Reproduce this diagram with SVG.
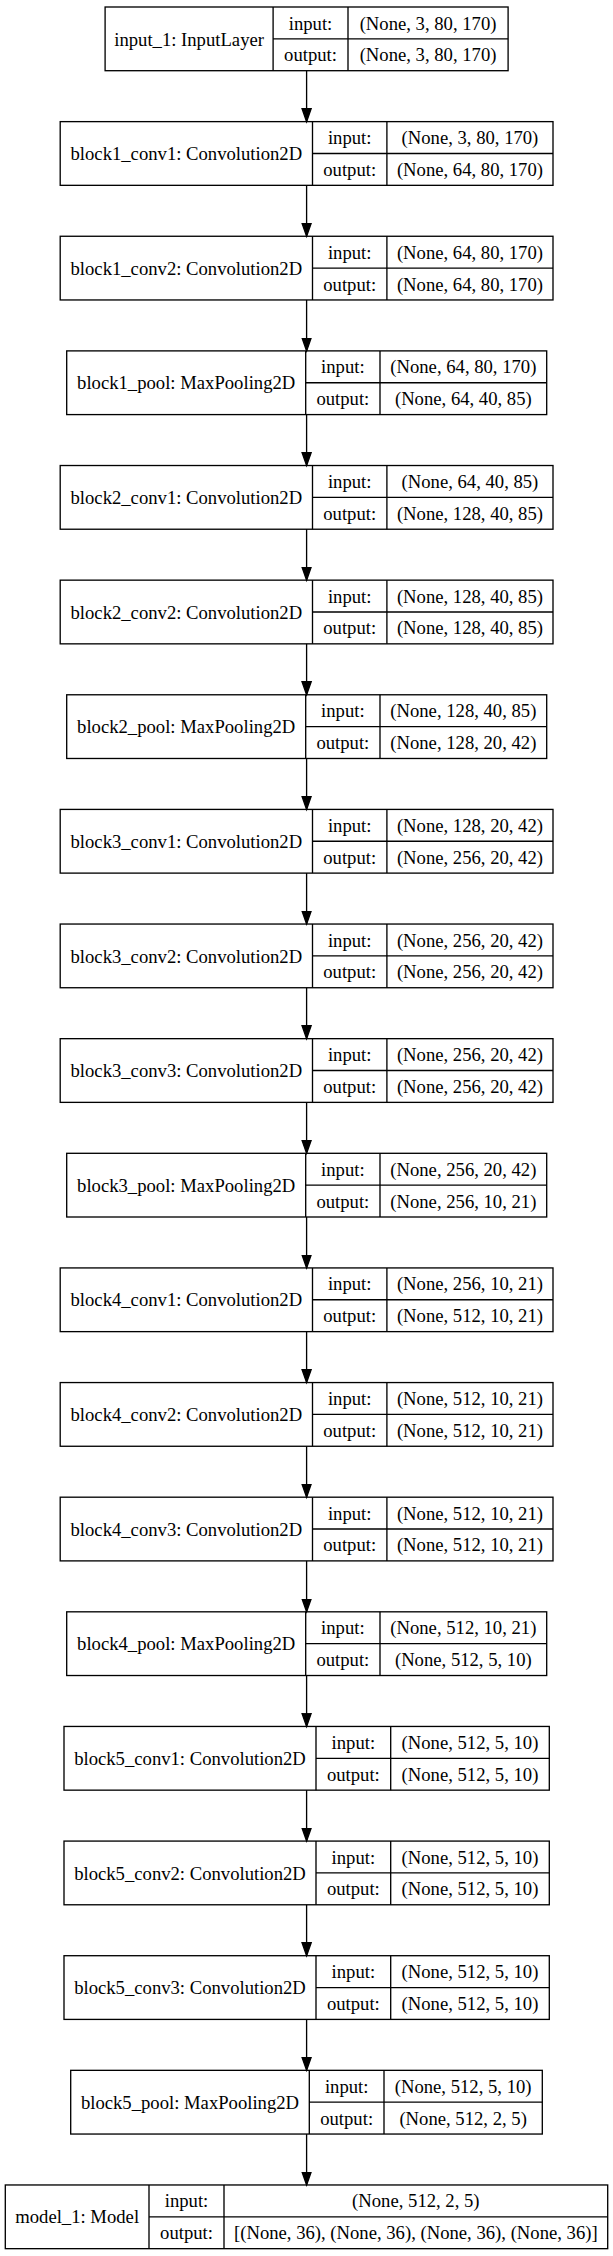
<svg xmlns="http://www.w3.org/2000/svg" width="613" height="2256" viewBox="0 0 613 2256">
<style>
.n rect, .n path { fill: none; stroke: #000; stroke-width: 1.33; }
.n text { font-family: "Liberation Serif", "Times New Roman", serif; font-size: 18.67px; text-anchor: middle; fill: #000; }
.e path { fill: none; stroke: #000; stroke-width: 1.33; marker-end: url(#ah); }
</style>
<defs>
<marker id="ah" markerUnits="userSpaceOnUse" markerWidth="16" markerHeight="12" refX="13.3" refY="5.67" orient="auto" viewBox="0 -1 16 12">
<path d="M0,1L13.3,5.67L0,10.33z" fill="#000" stroke="#000" stroke-width="1.33"/>
</marker>
</defs>
<rect width="613" height="2256" fill="#fff"/>
<g id="edges" class="e">
<path d="M306.6,70.7V121.63"/>
<path d="M306.6,185.33V236.26"/>
<path d="M306.6,299.96V350.89"/>
<path d="M306.6,414.59V465.52"/>
<path d="M306.6,529.22V580.15"/>
<path d="M306.6,643.85V694.78"/>
<path d="M306.6,758.48V809.41"/>
<path d="M306.6,873.11V924.04"/>
<path d="M306.6,987.74V1038.67"/>
<path d="M306.6,1102.37V1153.3"/>
<path d="M306.6,1217V1267.93"/>
<path d="M306.6,1331.63V1382.56"/>
<path d="M306.6,1446.26V1497.19"/>
<path d="M306.6,1560.89V1611.82"/>
<path d="M306.6,1675.52V1726.45"/>
<path d="M306.6,1790.15V1841.08"/>
<path d="M306.6,1904.78V1955.71"/>
<path d="M306.6,2019.41V2070.34"/>
<path d="M306.6,2134.04V2184.97"/>
</g>
<g id="input_1" class="n" transform="translate(0,7)">
<rect x="105.1" y="0" width="403" height="63.7"/>
<path d="M273.1,0V63.7M348,0V63.7M273.1,31.85H508.1"/>
<text x="189.1" y="38.5">input_1: InputLayer</text>
<text x="310.55" y="22.5">input:</text>
<text x="310.55" y="54.3">output:</text>
<text x="428.05" y="22.5">(None, 3, 80, 170)</text>
<text x="428.05" y="54.3">(None, 3, 80, 170)</text>
</g>
<g id="block1_conv1" class="n" transform="translate(0,121.63)">
<rect x="60.2" y="0" width="492.8" height="63.7"/>
<path d="M312.5,0V63.7M386.9,0V63.7M312.5,31.85H553"/>
<text x="186.35" y="38.5">block1_conv1: Convolution2D</text>
<text x="349.7" y="22.5">input:</text>
<text x="349.7" y="54.3">output:</text>
<text x="469.95" y="22.5">(None, 3, 80, 170)</text>
<text x="469.95" y="54.3">(None, 64, 80, 170)</text>
</g>
<g id="block1_conv2" class="n" transform="translate(0,236.26)">
<rect x="60.2" y="0" width="492.8" height="63.7"/>
<path d="M312.5,0V63.7M386.9,0V63.7M312.5,31.85H553"/>
<text x="186.35" y="38.5">block1_conv2: Convolution2D</text>
<text x="349.7" y="22.5">input:</text>
<text x="349.7" y="54.3">output:</text>
<text x="469.95" y="22.5">(None, 64, 80, 170)</text>
<text x="469.95" y="54.3">(None, 64, 80, 170)</text>
</g>
<g id="block1_pool" class="n" transform="translate(0,350.89)">
<rect x="66.7" y="0" width="480" height="63.7"/>
<path d="M305.7,0V63.7M380,0V63.7M305.7,31.85H546.7"/>
<text x="186.2" y="38.5">block1_pool: MaxPooling2D</text>
<text x="342.85" y="22.5">input:</text>
<text x="342.85" y="54.3">output:</text>
<text x="463.35" y="22.5">(None, 64, 80, 170)</text>
<text x="463.35" y="54.3">(None, 64, 40, 85)</text>
</g>
<g id="block2_conv1" class="n" transform="translate(0,465.52)">
<rect x="60.2" y="0" width="492.8" height="63.7"/>
<path d="M312.5,0V63.7M386.9,0V63.7M312.5,31.85H553"/>
<text x="186.35" y="38.5">block2_conv1: Convolution2D</text>
<text x="349.7" y="22.5">input:</text>
<text x="349.7" y="54.3">output:</text>
<text x="469.95" y="22.5">(None, 64, 40, 85)</text>
<text x="469.95" y="54.3">(None, 128, 40, 85)</text>
</g>
<g id="block2_conv2" class="n" transform="translate(0,580.15)">
<rect x="60.2" y="0" width="492.8" height="63.7"/>
<path d="M312.5,0V63.7M386.9,0V63.7M312.5,31.85H553"/>
<text x="186.35" y="38.5">block2_conv2: Convolution2D</text>
<text x="349.7" y="22.5">input:</text>
<text x="349.7" y="54.3">output:</text>
<text x="469.95" y="22.5">(None, 128, 40, 85)</text>
<text x="469.95" y="54.3">(None, 128, 40, 85)</text>
</g>
<g id="block2_pool" class="n" transform="translate(0,694.78)">
<rect x="66.7" y="0" width="480" height="63.7"/>
<path d="M305.7,0V63.7M380,0V63.7M305.7,31.85H546.7"/>
<text x="186.2" y="38.5">block2_pool: MaxPooling2D</text>
<text x="342.85" y="22.5">input:</text>
<text x="342.85" y="54.3">output:</text>
<text x="463.35" y="22.5">(None, 128, 40, 85)</text>
<text x="463.35" y="54.3">(None, 128, 20, 42)</text>
</g>
<g id="block3_conv1" class="n" transform="translate(0,809.41)">
<rect x="60.2" y="0" width="492.8" height="63.7"/>
<path d="M312.5,0V63.7M386.9,0V63.7M312.5,31.85H553"/>
<text x="186.35" y="38.5">block3_conv1: Convolution2D</text>
<text x="349.7" y="22.5">input:</text>
<text x="349.7" y="54.3">output:</text>
<text x="469.95" y="22.5">(None, 128, 20, 42)</text>
<text x="469.95" y="54.3">(None, 256, 20, 42)</text>
</g>
<g id="block3_conv2" class="n" transform="translate(0,924.04)">
<rect x="60.2" y="0" width="492.8" height="63.7"/>
<path d="M312.5,0V63.7M386.9,0V63.7M312.5,31.85H553"/>
<text x="186.35" y="38.5">block3_conv2: Convolution2D</text>
<text x="349.7" y="22.5">input:</text>
<text x="349.7" y="54.3">output:</text>
<text x="469.95" y="22.5">(None, 256, 20, 42)</text>
<text x="469.95" y="54.3">(None, 256, 20, 42)</text>
</g>
<g id="block3_conv3" class="n" transform="translate(0,1038.67)">
<rect x="60.2" y="0" width="492.8" height="63.7"/>
<path d="M312.5,0V63.7M386.9,0V63.7M312.5,31.85H553"/>
<text x="186.35" y="38.5">block3_conv3: Convolution2D</text>
<text x="349.7" y="22.5">input:</text>
<text x="349.7" y="54.3">output:</text>
<text x="469.95" y="22.5">(None, 256, 20, 42)</text>
<text x="469.95" y="54.3">(None, 256, 20, 42)</text>
</g>
<g id="block3_pool" class="n" transform="translate(0,1153.3)">
<rect x="66.7" y="0" width="480" height="63.7"/>
<path d="M305.7,0V63.7M380,0V63.7M305.7,31.85H546.7"/>
<text x="186.2" y="38.5">block3_pool: MaxPooling2D</text>
<text x="342.85" y="22.5">input:</text>
<text x="342.85" y="54.3">output:</text>
<text x="463.35" y="22.5">(None, 256, 20, 42)</text>
<text x="463.35" y="54.3">(None, 256, 10, 21)</text>
</g>
<g id="block4_conv1" class="n" transform="translate(0,1267.93)">
<rect x="60.2" y="0" width="492.8" height="63.7"/>
<path d="M312.5,0V63.7M386.9,0V63.7M312.5,31.85H553"/>
<text x="186.35" y="38.5">block4_conv1: Convolution2D</text>
<text x="349.7" y="22.5">input:</text>
<text x="349.7" y="54.3">output:</text>
<text x="469.95" y="22.5">(None, 256, 10, 21)</text>
<text x="469.95" y="54.3">(None, 512, 10, 21)</text>
</g>
<g id="block4_conv2" class="n" transform="translate(0,1382.56)">
<rect x="60.2" y="0" width="492.8" height="63.7"/>
<path d="M312.5,0V63.7M386.9,0V63.7M312.5,31.85H553"/>
<text x="186.35" y="38.5">block4_conv2: Convolution2D</text>
<text x="349.7" y="22.5">input:</text>
<text x="349.7" y="54.3">output:</text>
<text x="469.95" y="22.5">(None, 512, 10, 21)</text>
<text x="469.95" y="54.3">(None, 512, 10, 21)</text>
</g>
<g id="block4_conv3" class="n" transform="translate(0,1497.19)">
<rect x="60.2" y="0" width="492.8" height="63.7"/>
<path d="M312.5,0V63.7M386.9,0V63.7M312.5,31.85H553"/>
<text x="186.35" y="38.5">block4_conv3: Convolution2D</text>
<text x="349.7" y="22.5">input:</text>
<text x="349.7" y="54.3">output:</text>
<text x="469.95" y="22.5">(None, 512, 10, 21)</text>
<text x="469.95" y="54.3">(None, 512, 10, 21)</text>
</g>
<g id="block4_pool" class="n" transform="translate(0,1611.82)">
<rect x="66.7" y="0" width="480" height="63.7"/>
<path d="M305.7,0V63.7M380,0V63.7M305.7,31.85H546.7"/>
<text x="186.2" y="38.5">block4_pool: MaxPooling2D</text>
<text x="342.85" y="22.5">input:</text>
<text x="342.85" y="54.3">output:</text>
<text x="463.35" y="22.5">(None, 512, 10, 21)</text>
<text x="463.35" y="54.3">(None, 512, 5, 10)</text>
</g>
<g id="block5_conv1" class="n" transform="translate(0,1726.45)">
<rect x="64" y="0" width="485.3" height="63.7"/>
<path d="M316,0V63.7M390.7,0V63.7M316,31.85H549.3"/>
<text x="190" y="38.5">block5_conv1: Convolution2D</text>
<text x="353.35" y="22.5">input:</text>
<text x="353.35" y="54.3">output:</text>
<text x="470" y="22.5">(None, 512, 5, 10)</text>
<text x="470" y="54.3">(None, 512, 5, 10)</text>
</g>
<g id="block5_conv2" class="n" transform="translate(0,1841.08)">
<rect x="64" y="0" width="485.3" height="63.7"/>
<path d="M316,0V63.7M390.7,0V63.7M316,31.85H549.3"/>
<text x="190" y="38.5">block5_conv2: Convolution2D</text>
<text x="353.35" y="22.5">input:</text>
<text x="353.35" y="54.3">output:</text>
<text x="470" y="22.5">(None, 512, 5, 10)</text>
<text x="470" y="54.3">(None, 512, 5, 10)</text>
</g>
<g id="block5_conv3" class="n" transform="translate(0,1955.71)">
<rect x="64" y="0" width="485.3" height="63.7"/>
<path d="M316,0V63.7M390.7,0V63.7M316,31.85H549.3"/>
<text x="190" y="38.5">block5_conv3: Convolution2D</text>
<text x="353.35" y="22.5">input:</text>
<text x="353.35" y="54.3">output:</text>
<text x="470" y="22.5">(None, 512, 5, 10)</text>
<text x="470" y="54.3">(None, 512, 5, 10)</text>
</g>
<g id="block5_pool" class="n" transform="translate(0,2070.34)">
<rect x="70.7" y="0" width="471.6" height="63.7"/>
<path d="M309.3,0V63.7M384,0V63.7M309.3,31.85H542.3"/>
<text x="190" y="38.5">block5_pool: MaxPooling2D</text>
<text x="346.65" y="22.5">input:</text>
<text x="346.65" y="54.3">output:</text>
<text x="463.15" y="22.5">(None, 512, 5, 10)</text>
<text x="463.15" y="54.3">(None, 512, 2, 5)</text>
</g>
<g id="model_1" class="n" transform="translate(0,2184.97)">
<rect x="5.3" y="0" width="602.4" height="63.7"/>
<path d="M149,0V63.7M224,0V63.7M149,31.85H607.7"/>
<text x="77.15" y="38.5">model_1: Model</text>
<text x="186.5" y="22.5">input:</text>
<text x="186.5" y="54.3">output:</text>
<text x="415.85" y="22.5">(None, 512, 2, 5)</text>
<text x="415.85" y="54.3">[(None, 36), (None, 36), (None, 36), (None, 36)]</text>
</g>
</svg>
